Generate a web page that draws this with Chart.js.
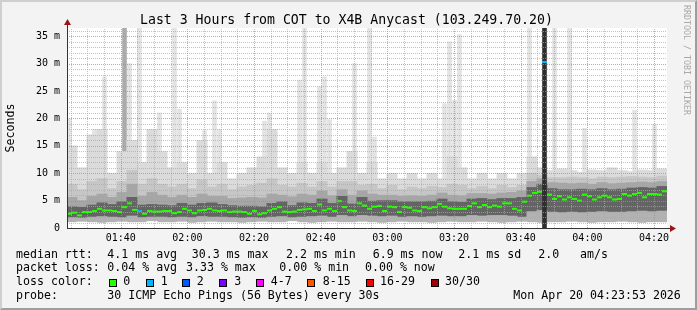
<!DOCTYPE html>
<html><head><meta charset="utf-8">
<script src="https://cdn.jsdelivr.net/npm/chart.js@4"></script>
<style>
html,body{margin:0;padding:0;background:#f3f3f3;}
#wrap{position:relative;width:697px;height:310px;background:#f3f3f3;overflow:hidden;font-family:"DejaVu Sans Mono",monospace;color:#000;}
#wrap canvas{position:absolute;left:0;top:0;}
.t{position:absolute;white-space:pre;font-size:11.6px;line-height:1;}
.box{position:absolute;width:6px;height:6px;border:1px solid #000;}
#title{position:absolute;left:140px;top:12.8px;font-size:13.2px;line-height:1;white-space:pre;}
#rrd{position:absolute;left:683px;top:5px;font-size:8.3px;line-height:1;color:#a8a8a8;writing-mode:vertical-rl;white-space:pre;}
#frame{position:absolute;left:0;top:0;width:697px;height:310px;box-sizing:border-box;border:2px solid;border-color:#cfcfcf #9e9e9e #9e9e9e #cfcfcf;pointer-events:none;}
</style></head>
<body>
<div id="wrap">
<canvas id="c" width="697" height="310"></canvas>
<div id="title">Last 3 Hours from COT to X4B Anycast (103.249.70.20)</div>
<div id="rrd">RRDTOOL / TOBI OETIKER</div>
<div id="legend"></div>
<div id="frame"></div>
</div>
<script>
// ---- time axis (minutes after midnight) ----
const startMin = 83 + 53/60;      // 01:23:53
const spanMin = 180;              // last 3 hours
const medStep = 1.5;              // minutes per median sample
const smokeStep = 3;              // minutes per smoke sample
const yMax = 36.5;                // ms
const xTickVals = [];
for (let v = 85; v <= 260; v += 5) xTickVals.push(v);
const yTickVals = [];
for (let v = 0; v <= 36; v += 1) yTickVals.push(v);

// ---- median rtt (ms), one per 1.5 min ----
const median = [
 2.6,2.8,2.3,2.9,2.9,3.1,3.5,3.2,3.2,3.1, 2.9,3.8,4.5,3.3,3.1,2.6,3.1,3.0,3.0,3.1,
 3.1,2.7,2.9,3.5,3.2,2.7,3.2,3.3,3.5,3.2, 3.1,3.2,2.9,3.0,3.0,2.9,2.6,3.1,2.5,2.7,
 3.2,3.5,3.8,3.0,2.9,3.0,3.3,3.4,3.5,3.1, 4.3,3.2,3.5,3.1,4.9,3.8,3.2,3.1,4.5,4.1,
 3.5,3.9,4.0,3.1,3.9,3.8,2.9,3.8,3.7,3.2, 3.1,3.8,3.6,3.8,4.4,3.9,3.6,3.5,3.5,3.5,
 4.0,4.5,3.8,4.2,3.8,4.1,3.9,4.5,4.5,3.5, 3.2,4.8,5.9,6.4,6.6,30.3,6.1,5.3,5.8,5.2,
 5.6,5.3,5.0,6.1,5.8,5.2,5.6,5.9,5.6,5.2, 5.3,6.2,5.9,6.2,6.4,5.6,6.2,6.2,6.1,6.7
];
// samples with lost pings (index into median, pings lost)
const lossIdx = [14, 95];
const lossCnt = [1, 1];

// ---- smoke levels (ms), one per 3 min ----
const smokeMin = [
 1.0,1.1,1.0,0.9,1.0,1.1,1.0,1.0,1.2,1.0, 1.0,1.1,0.9,1.0,1.1,1.0,1.0,0.9,1.0,1.1,
 1.0,1.0,1.2,1.0,0.9,1.0,1.1,1.0,1.0,1.1, 1.0,0.9,1.0,1.1,1.0,1.0,0.9,1.0,1.1,1.0,
 1.0,1.1,1.0,0.9,1.0,1.1,1.0,0.9,1.0,1.0, 1.1,1.0,0.9,1.0,1.0,1.1,1.0,0.9,1.0,1.0];
const smokeCoreLo = [
 1.9,1.8,2.0,2.1,2.0,1.9,2.2,1.9,2.0,2.0, 1.9,2.0,1.9,2.1,2.0,2.0,1.9,1.8,1.9,1.8,
 2.0,2.1,1.9,2.0,2.1,2.2,2.0,2.3,2.1,2.3, 2.2,2.1,2.2,2.0,2.1,2.0,2.1,2.2,2.1,2.1,
 2.3,2.2,2.3,2.3,2.2,2.0,3.0,3.2,2.9,2.8, 2.9,2.8,2.9,3.0,2.9,2.9,3.0,3.1,3.0,3.1];
const smokeCoreHi = [
 3.9,3.8,4.2,4.6,4.3,4.8,5.6,4.2,4.3,4.2, 4.1,4.5,4.2,4.5,4.6,4.3,4.1,4.0,4.0,3.9,
 4.5,4.8,4.1,4.6,4.5,5.3,4.5,5.8,4.4,5.6, 4.9,5.0,5.0,4.8,4.8,4.8,4.9,5.3,4.8,4.7,
 5.3,5.4,5.2,5.4,5.4,5.6,7.4,8.0,7.2,7.0, 7.0,7.1,7.0,7.2,7.0,7.1,7.3,7.4,7.3,7.6];
const smokeMid = [
 5.6,5.0,5.8,6.2,5.6,6.5,8.0,5.8,6.5,6.0, 5.6,6.0,5.6,6.2,5.8,5.8,5.4,5.5,5.6,5.5,
 6.2,6.0,5.7,6.2,6.0,6.8,5.9,7.0,6.0,6.8, 6.2,6.0,6.0,5.8,5.9,5.8,6.0,6.4,6.0,5.9,
 6.3,6.3,6.2,6.4,6.5,6.8,8.5,9.0,8.3,8.2, 8.1,8.2,8.0,8.3,8.1,8.2,8.3,8.4,8.3,8.5];
const smokeOuter = [
 8.0,7.0,8.5,9.0,7.2,8.5,10.5,8.0,9.0,8.0, 7.5,8.0,7.2,8.8,7.5,8.0,7.0,7.5,7.8,8.2,
 9.0,7.8,7.5,8.2,7.5,8.5,7.5,8.5,8.5,7.8, 8.0,7.2,7.8,7.0,7.5,7.2,7.6,7.4,8.0,7.8,
 7.2,7.6,7.2,7.8,7.4,7.8,10.0,9.6,9.2,9.2, 9.3,9.2,9.0,9.3,9.2,9.3,9.4,9.3,9.2,9.5];
const smokeTop = [
 15,11,17,18,10,14,16,12,18,14, 11,12,10,16,10,12,9,10,11,13,
 18,11,10,12,10,12,10,11,14,10, 12,9,10,9,10,9,10,9,13,11,
 9,10,9,10,9,10,13,11,10.5,10.8, 10.5,10.2,10.6,10.5,11,10.5,10.3,10.6,10.5,10.8];

// ---- sparse outliers (index into 1.5-min samples, ms) ----
const spikeIdx = [0,5,7,12,14,18,21,22,27,29,30,39,40,46,47,50,51,52,57,60,61,75,76,77,78,92,97,100,103,113,117];
const spikeVal = [20,18,27.6,30,40,21,40,21.7,17.8,23.2,18,19.5,21,27,40,25.8,27.6,19.8,30,40,16.6,22.7,34,23.3,35.3,40,40,40,18.2,21.5,19];
const spikeMidIdx = [11];
const spikeMidVal = [40];
const spikeDarkIdx = [95];
const spikeDarkVal = [40];

// ---- legend ----
const lossColors = ['#26ff00','#00b8ff','#0059ff','#7e00ff','#ff00ff','#ff5500','#ff0000','#a10000'];
const lossLabels = ['0','1','2','3','4-7','8-15','16-29','30/30'];
const rttStats = ['4.1 ms avg','30.3 ms max','2.2 ms min','6.9 ms now','2.1 ms sd','2.0','am/s'];
const lossStats = ['0.04 % avg','3.33 % max','0.00 % min','0.00 % now'];
const probeText = '30 ICMP Echo Pings (56 Bytes) every 30s';
const stampText = 'Mon Apr 20 04:23:53 2026';

// ---- build legend (layout) ----
(function(){
  const L = document.getElementById('legend');
  function txt(s, x, y){ const d=document.createElement('div'); d.className='t'; d.textContent=s; d.style.left=x+'px'; d.style.top=y+'px'; L.appendChild(d); }
  const rows = [248.7, 262, 276.2, 289.7];
  txt('median rtt:', 16, rows[0]);
  [107.3,191.7,286,372.7,458.3,538.3,580].forEach((x,i)=>txt(rttStats[i], x, rows[0]));
  txt('packet loss:', 16, rows[1]);
  [107.3,186,279.3,365].forEach((x,i)=>txt(lossStats[i], x, rows[1]));
  txt('loss color:', 16, rows[2]);
  const bx=[108.7,145.7,182.3,219.3,256,307.3,365.7,430.7];
  const tx=[123.3,160.7,196.7,234.3,270.7,322.7,380,445];
  lossLabels.forEach((s,i)=>{
    const b=document.createElement('div'); b.className='box'; b.style.left=bx[i]+'px'; b.style.top='278.5px'; b.style.background=lossColors[i]; L.appendChild(b);
    txt(s, tx[i], rows[2]);
  });
  txt('probe:', 16, rows[3]);
  txt(probeText, 107.3, rows[3]);
  txt(stampText, 513.3, rows[3]);
})();

// ---- data builders ----
const medX = i => startMin + (i + 0.5) * medStep;
const smokeX = i => startMin + (i + 0.5) * smokeStep;
const smokeData = arr => arr.map((v,i)=>({x: smokeX(i), y: v}));
const sparseData = (idx, val) => idx.map((k,j)=>({x: medX(k), y: val[j]}));
const lossOf = i => { const j = lossIdx.indexOf(i); return j < 0 ? 0 : lossCnt[j]; };
function lossColor(n){ if(n<=0) return lossColors[0]; if(n<=3) return lossColors[n]; if(n<=7) return lossColors[4]; if(n<=15) return lossColors[5]; if(n<=29) return lossColors[6]; return lossColors[7]; }

const SMOKE_W = 10.4, SPIKE_W = 4;
function barSet(data, color, w){
  return {type:'bar', data, backgroundColor:color, borderWidth:0, grouped:false, barThickness:w, inflateAmount:0.3};
}

const pad2 = n => String(n).padStart(2,'0');
const fmtTime = v => pad2(Math.floor(v/60)) + ':' + pad2(v % 60);

const plotBg = { id:'plotBg', beforeDraw(c){ const a=c.chartArea, g=c.ctx; g.save(); g.fillStyle='#ffffff'; g.fillRect(a.left,a.top,a.right-a.left,a.bottom-a.top); g.restore(); } };

// dotted rrdtool-style grid drawn over the data, at the library's tick positions
const dottedGrid = { id:'dottedGrid', afterDatasetsDraw(c){
  const a=c.chartArea, g=c.ctx, xs=c.scales.x, ys=c.scales.y;
  g.save(); g.lineWidth=1; g.setLineDash([1,1]);
  xs.ticks.forEach(t=>{
    const px = Math.round(xs.getPixelForValue(t.value)) + 0.5;
    g.strokeStyle = t.value % 20 === 0 ? 'rgba(240,110,110,0.75)' : 'rgba(170,170,170,0.7)';
    g.beginPath(); g.moveTo(px, a.bottom); g.lineTo(px, a.top); g.stroke();
  });
  ys.ticks.forEach(t=>{
    if (t.value === 0) return;
    const py = Math.round(ys.getPixelForValue(t.value)) + 0.5;
    g.strokeStyle = t.value % 5 === 0 ? 'rgba(240,110,110,0.75)' : 'rgba(170,170,170,0.7)';
    g.beginPath(); g.moveTo(a.left, py); g.lineTo(a.right, py); g.stroke();
  });
  g.restore(); } };

const arrows = { id:'arrows', afterDraw(c){
  const a=c.chartArea, g=c.ctx; g.save();
  g.strokeStyle='#333'; g.lineWidth=1;
  g.beginPath(); g.moveTo(a.left+0.5, a.top); g.lineTo(a.left+0.5, a.top-5); g.stroke();
  g.beginPath(); g.moveTo(a.right, a.bottom+0.5); g.lineTo(a.right+4, a.bottom+0.5); g.stroke();
  g.fillStyle='#9a1515';
  g.beginPath(); g.moveTo(a.left+0.5, a.top-9); g.lineTo(a.left-3, a.top-3); g.lineTo(a.left+4, a.top-3); g.closePath(); g.fill();
  g.beginPath(); g.moveTo(a.right+9, a.bottom+0.5); g.lineTo(a.right+3, a.bottom-3); g.lineTo(a.right+3, a.bottom+4); g.closePath(); g.fill();
  g.restore(); } };

const font10 = {family:'DejaVu Sans Mono', size:10};
// datasets listed top-most first (Chart.js paints the last one first)
new Chart(document.getElementById('c'), {
  type:'bar',
  data:{datasets:[
    {type:'line', data: median.map((v,i)=>({x: medX(i), y: v})), showLine:false,
     pointStyle:'line', pointRadius:2.5, pointHoverRadius:2.5, pointBorderWidth:2,
     pointBorderColor: c => lossColor(lossOf(c.dataIndex)), pointBackgroundColor: c => lossColor(lossOf(c.dataIndex))},
    barSet(sparseData(spikeDarkIdx, spikeDarkVal), '#2e2e2e', SPIKE_W),
    barSet(smokeData(smokeMin), '#ffffff', SMOKE_W),
    barSet(smokeData(smokeCoreLo), '#b2b2b2', SMOKE_W),
    barSet(smokeData(smokeCoreHi), '#646464', SMOKE_W),
    barSet(smokeData(smokeMid), '#a6a6a6', SMOKE_W),
    barSet(smokeData(smokeOuter), '#c6c6c6', SMOKE_W),
    barSet(smokeData(smokeTop), '#dbdbdb', SMOKE_W),
    barSet(sparseData(spikeMidIdx, spikeMidVal), '#ababab', SPIKE_W),
    barSet(sparseData(spikeIdx, spikeVal), '#e3e3e3', SPIKE_W)
  ]},
  options:{
    responsive:false, animation:false, events:[],
    layout:{padding:{left:0, top:28, right:30, bottom:62}},
    plugins:{legend:{display:false}, tooltip:{enabled:false}, title:{display:false}},
    scales:{
      x:{type:'linear', min:startMin, max:startMin+spanMin, offset:false,
        afterFit: s => { s.height = 20; },
        afterBuildTicks: s => { s.ticks = xTickVals.map(v=>({value:v})); },
        ticks:{autoSkip:false, maxRotation:0, padding:4, color:'#000', font:font10,
               callback: v => (v % 20 === 0 ? fmtTime(v) : '')},
        grid:{display:false, drawTicks:false},
        border:{display:true, color:'#333', width:1, z:2}
      },
      y:{type:'linear', min:0, max:yMax,
        afterFit: s => { s.width = 67; },
        afterBuildTicks: s => { s.ticks = yTickVals.map(v=>({value:v})); },
        ticks:{autoSkip:false, padding:7, color:'#000', font:font10,
               callback: v => (v % 5 === 0 ? (v === 0 ? '0' : v + ' m') : '')},
        grid:{display:false, drawTicks:false},
        border:{display:true, color:'#333', width:1, z:2},
        title:{display:true, text:'Seconds', color:'#000', font:{family:'DejaVu Sans Mono', size:11.6}, padding:{top:4, bottom:0}}
      }
    }
  },
  plugins:[plotBg, dottedGrid, arrows]
});
</script>
</body></html>
